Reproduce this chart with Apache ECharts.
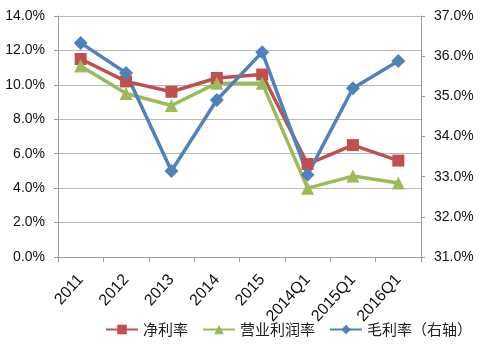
<!DOCTYPE html>
<html><head><meta charset="utf-8">
<script src="https://cdn.jsdelivr.net/npm/echarts@6/dist/echarts.min.js"></script>
<style>html,body{margin:0;padding:0;background:#fff}#c{width:486px;height:350px}</style>
</head><body><div id="c"></div>
<script>
var categories = ['2011','2012','2013','2014','2015','2014Q1','2015Q1','2016Q1'];
var netMargin = [11.5, 10.2, 9.6, 10.4, 10.6, 5.4, 6.5, 5.6];
var opMargin = [11.1, 9.5, 8.8, 10.1, 10.1, 4.0, 4.7, 4.3];
var grossMargin = [36.33, 35.58, 33.14, 34.91, 36.1, 33.05, 35.2, 35.88];
var seriesNames = ['净利率', '营业利润率', '毛利率（右轴）'];

var font = '"Liberation Sans Narrow", "Liberation Sans", "Noto Sans CJK SC", sans-serif';
var chart = echarts.init(document.getElementById('c'));
function pct(v){ return v.toFixed(1) + '%'; }
chart.setOption({
  animation: false,
  grid: {left: 58, right: 65, top: 16, bottom: 93},
  legend: {
    bottom: 8, left: 100, itemWidth: 32, itemHeight: 12, itemGap: 14,
    textStyle: {fontSize: 15, color: '#222', fontFamily: '"Noto Sans CJK SC", sans-serif'},
    data: seriesNames
  },
  xAxis: {
    type: 'category', data: categories, boundaryGap: true,
    axisLine: {lineStyle: {color: '#9a9a9a'}},
    axisTick: {show: true, length: 5, lineStyle: {color: '#9a9a9a'}},
    axisLabel: {rotate: 48, fontSize: 16, color: '#111', fontFamily: font, margin: 20}
  },
  yAxis: [{
    type: 'value', min: 0, max: 14, interval: 2,
    axisLine: {show: true, lineStyle: {color: '#9a9a9a'}},
    axisTick: {show: true, length: 4, lineStyle: {color: '#9a9a9a'}},
    splitLine: {lineStyle: {color: '#b8b8b8', width: 1}},
    axisLabel: {formatter: pct, fontSize: 14, color: '#111', fontFamily: font, margin: 13}
  }, {
    type: 'value', min: 31, max: 37, interval: 1,
    axisLine: {show: true, lineStyle: {color: '#9a9a9a'}},
    axisTick: {show: true, length: 4, lineStyle: {color: '#9a9a9a'}},
    splitLine: {show: false},
    axisLabel: {formatter: pct, fontSize: 14, color: '#111', fontFamily: font, margin: 13}
  }],
  series: [{
    name: seriesNames[0], type: 'line', data: netMargin, yAxisIndex: 0,
    symbol: 'rect', symbolSize: 12,
    lineStyle: {color: '#C0504D', width: 3.5}, itemStyle: {color: '#C0504D'}
  }, {
    name: seriesNames[1], type: 'line', data: opMargin, yAxisIndex: 0,
    symbol: 'triangle', symbolSize: 13,
    lineStyle: {color: '#9BBB59', width: 3.5}, itemStyle: {color: '#9BBB59'}
  }, {
    name: seriesNames[2], type: 'line', data: grossMargin, yAxisIndex: 1,
    symbol: 'diamond', symbolSize: 14,
    lineStyle: {color: '#4F81BD', width: 3.5}, itemStyle: {color: '#4F81BD'}
  }]
});
</script></body></html>
